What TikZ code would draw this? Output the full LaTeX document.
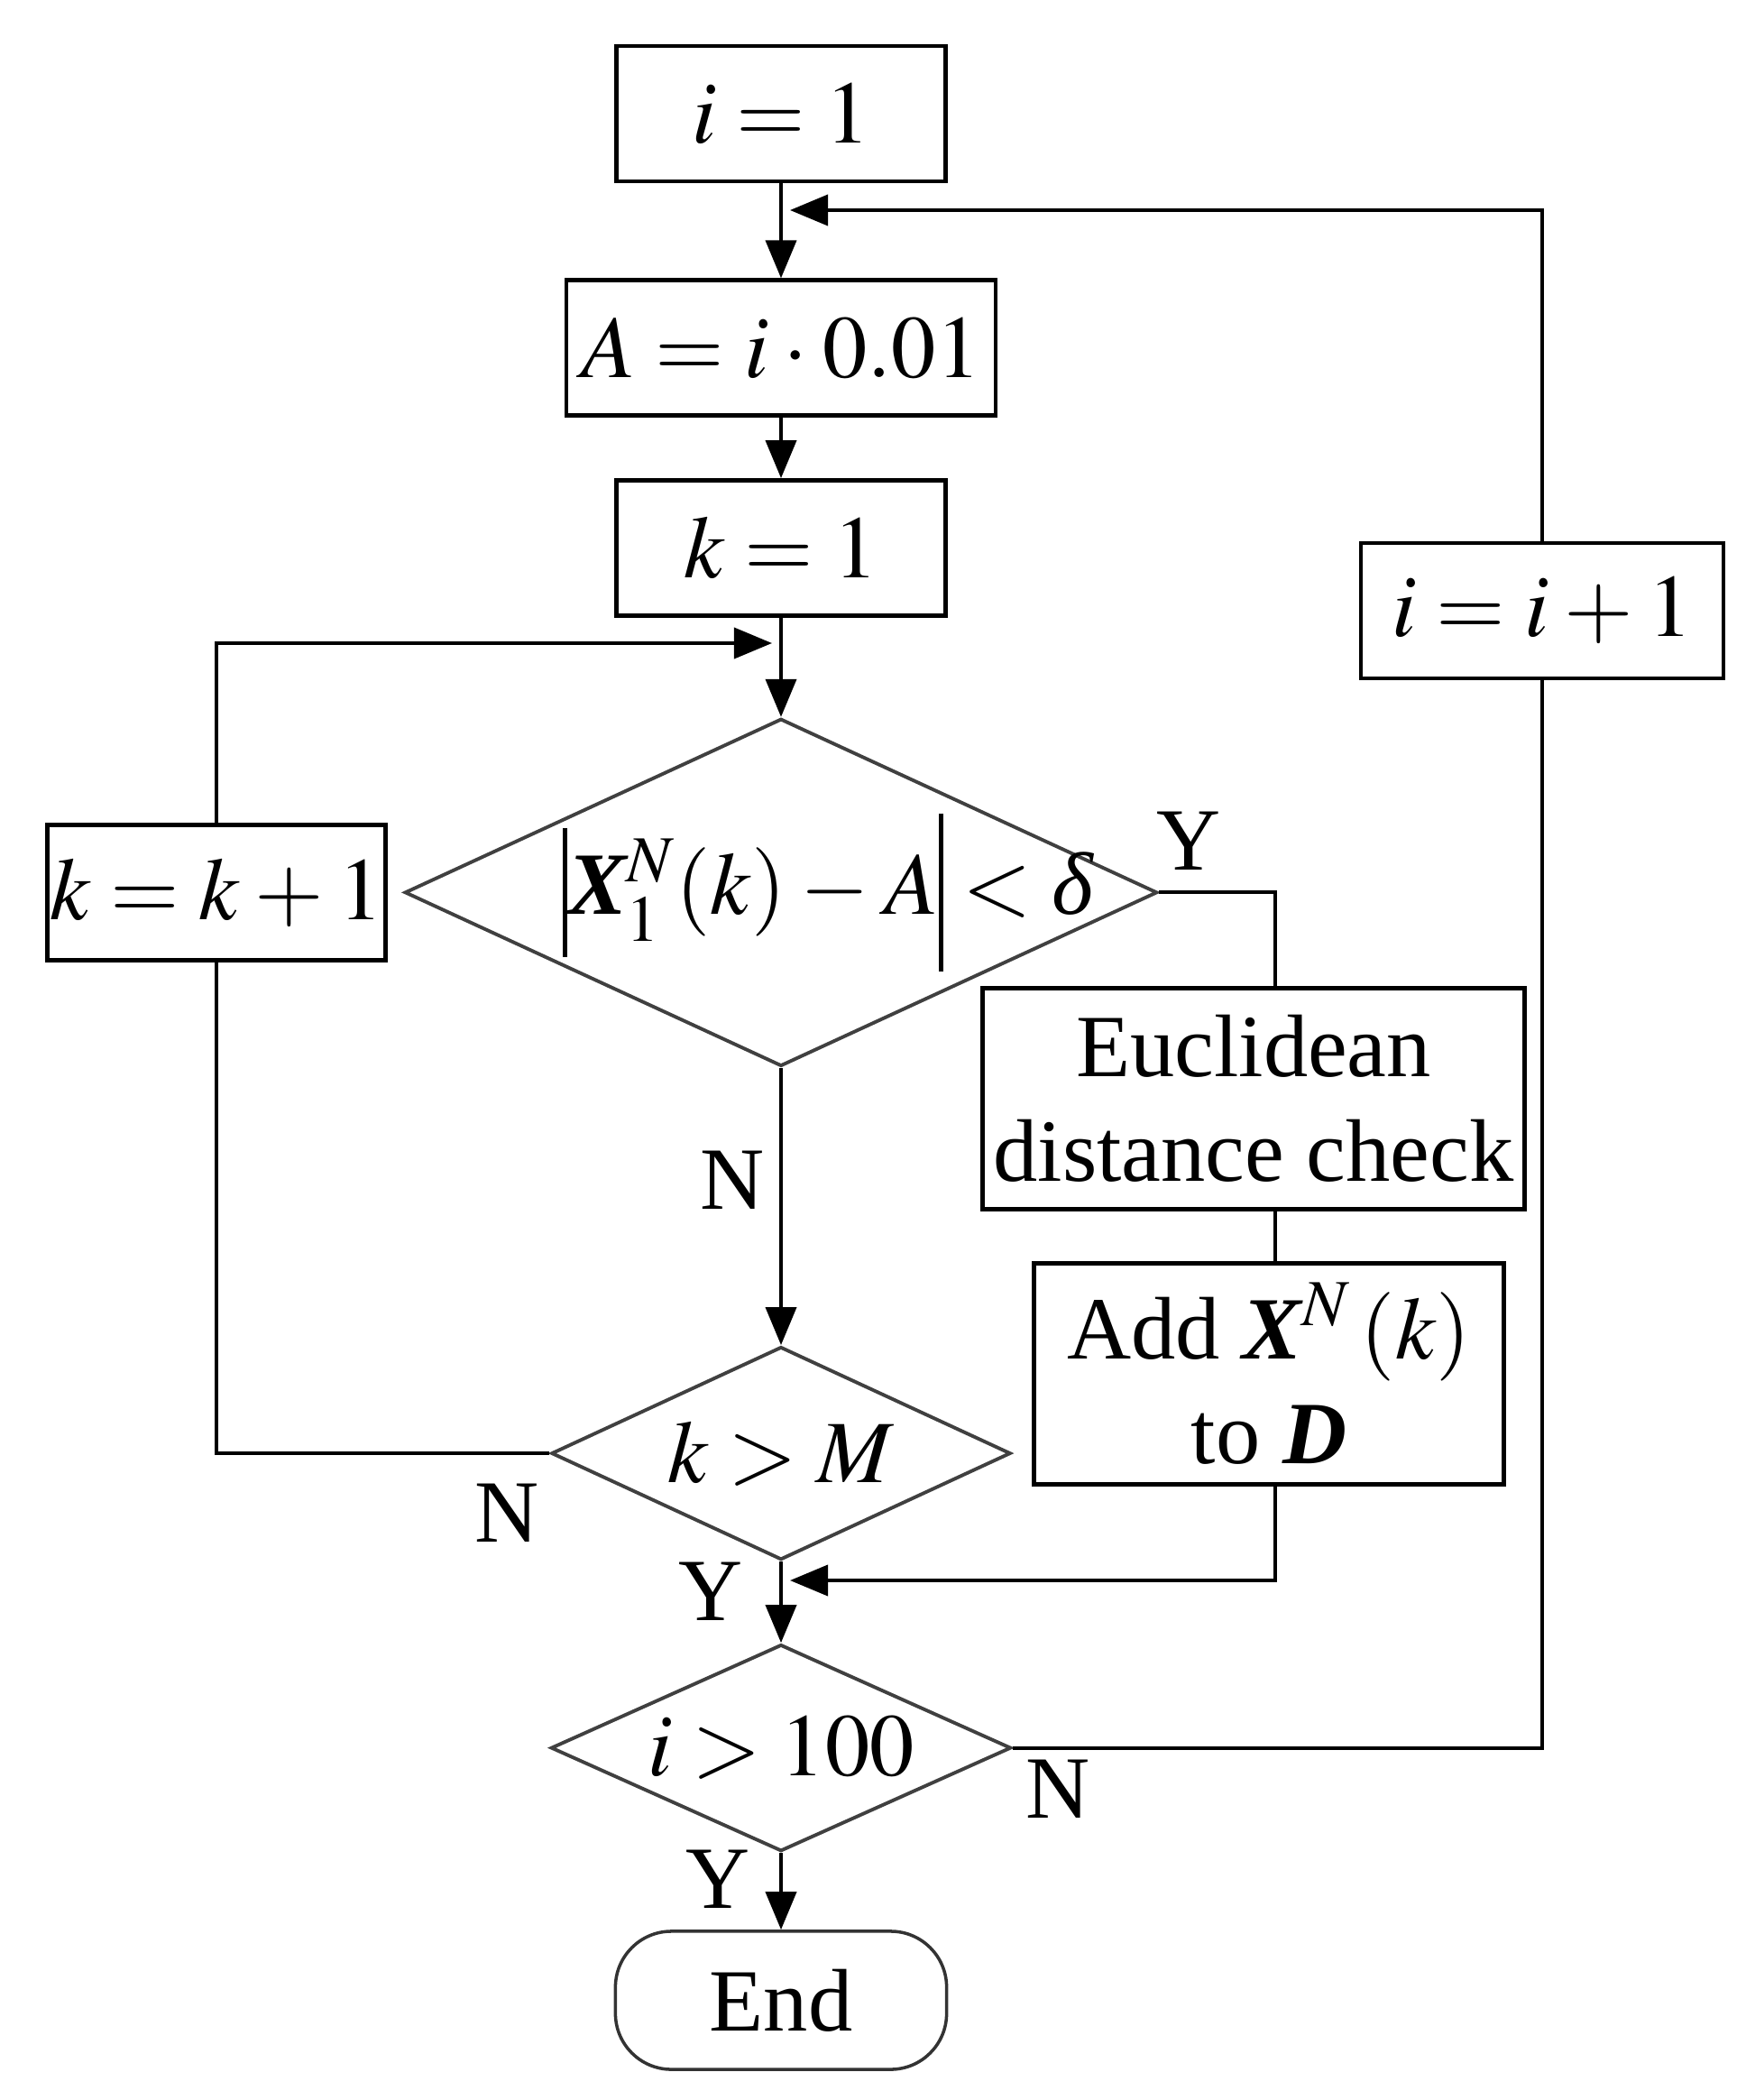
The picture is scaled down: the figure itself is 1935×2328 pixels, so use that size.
\documentclass[tikz,border=0pt]{standalone}
\usepackage{mathptmx}
\usepackage[no-math]{fontspec}
\setmainfont{Liberation Serif}
\usepackage{tikz}
\usetikzlibrary{shapes.geometric,positioning,arrows.meta}
\newcommand{\bvec}[1]{\mbox{\bfseries\itshape #1}}
\newcommand{\absbar}[2]{\rule[#1]{1.4pt}{#2}}
\newcommand{\tdelta}{\mbox{\itshape δ}}
\thickmuskip=4mu plus 2mu
\medmuskip=3mu plus 1mu

\begin{document}
\begin{tikzpicture}
[
  x=0.01cm, y=-0.01cm,
  font=\fontsize{28}{33}\selectfont,
  >={Triangle[length=0.42cm,width=0.34cm]},
  flow/.style={line width=1.1pt},
  box/.style={rectangle, draw, line width=1.3pt, minimum height=1.5cm, inner sep=0pt, align=center},
  decision/.style={diamond, draw=black!75, line width=1.1pt, aspect=2.2, inner sep=0pt},
  terminal/.style={rectangle, rounded corners=0.62cm, draw=black!80, line width=1pt, minimum width=3.67cm, minimum height=1.53cm}
]
\useasboundingbox (0,0) rectangle (1935,2328);

% main column
\node (init) [box, minimum width=3.65cm] at (866,126) {$i=1$};
\node (amp) [box, minimum width=4.76cm, below=1.05cm of init] {$A=i\cdot 0.01$};
\node (kinit) [box, minimum width=3.65cm, below=0.67cm of amp] {$k=1$};
\node (cond) [decision, minimum width=8.34cm, minimum height=3.85cm, below=1.1cm of kinit,
  label={[xshift=0.52cm]center:{$\absbar{-0.47cm}{1.43cm}\bvec{X}_1^{N}(k)-A\absbar{-0.63cm}{1.75cm}<\tdelta$}}] {};
\node (kcheck) [decision, minimum width=5.09cm, minimum height=2.36cm, below=3.07cm of cond] {$k>M$};
\node (icheck) [decision, minimum width=5.1cm, minimum height=2.29cm, below=0.9cm of kcheck] {$i>100$};
\node (stop) [terminal, below=0.85cm of icheck] {End};

% side boxes
\node (kinc) [box, minimum width=3.75cm, left=0.17cm of cond] {$k=k+1$};
\node (iinc) [box, minimum width=4.02cm] at (1710,677) {$i=i+1$};
\node (eucl) [box, minimum width=6.01cm, minimum height=2.45cm] at (1390,1218) {Euclidean\\distance check};
\node (add) [box, minimum width=5.21cm, minimum height=2.45cm] at (1407,1523) {Add $\bvec{X}^{N}\,(k)$\\to $\bvec{D}$};

% joins on the main column
\coordinate (m1) at (866,233);
\coordinate (m2) at (866,713);
\coordinate (m3) at (866,1752);

% branch labels
\node (yes1) at (1318,932) {Y};
\node (no1) at (812,1308) {N};
\node (no2) at (562,1677) {N};
\node (yes2) at (788,1764) {Y};
\node (no3) at (1173,1983) {N};
\node (yes3) at (796,2083) {Y};

\foreach \i/\j in {init/amp,amp/kinit,kinit/cond,cond/kcheck,kcheck/icheck,icheck/stop}
  \draw [flow, ->] (\i) -- (\j);

\draw [flow] (cond.east) -| ([xshift=0.24cm]eucl.north);
\draw [flow] ([xshift=0.24cm]eucl.south) -- ([xshift=0.07cm]add.north);
\draw [flow, ->, shorten >=0.1cm] ([xshift=0.07cm]add.south) |- (m3);
\draw [flow] (kcheck.west) -| (kinc.south);
\draw [flow, ->, shorten >=0.1cm] (kinc.north) |- (m2);
\draw [flow] (icheck.east) -| (iinc.south);
\draw [flow, ->, shorten >=0.1cm] (iinc.north) |- (m1);
\end{tikzpicture}
\end{document}
